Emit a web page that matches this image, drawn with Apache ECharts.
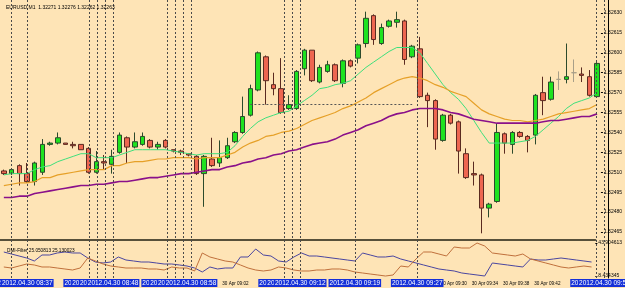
<!DOCTYPE html>
<html><head><meta charset="utf-8">
<script src="https://cdn.jsdelivr.net/npm/echarts@6/dist/echarts.min.js"></script>
<style>html,body{margin:0;padding:0;background:#fee4b6}#c{width:625px;height:288px}</style>
</head><body><div id="c"></div>
<script>
const times = ['08:34','08:35','08:36','08:37','08:38','08:39','08:40','08:41','08:42','08:43','08:44','08:45','08:46','08:47','08:48','08:49','08:50','08:51','08:52','08:53','08:54','08:55','08:56','08:57','08:58','08:59',
'09:00','09:01','09:02','09:03','09:04','09:05','09:06','09:07','09:08','09:09','09:10','09:11','09:12','09:13','09:14','09:15','09:16','09:17','09:18','09:19','09:20','09:21','09:22','09:23','09:24','09:25','09:26','09:27','09:28','09:29',
'09:30','09:31','09:32','09:33','09:34','09:35','09:36','09:37','09:38','09:39','09:40','09:41','09:42','09:43','09:44','09:45','09:46','09:47','09:48','09:49','09:50','09:51'];

const opens = [1.32511,1.32509,1.32515,1.32509,1.32503,1.32510,1.32531,1.32532,1.32532,1.32531,
1.32531,1.32528,1.32510,1.32518,1.32516,1.32525,1.32536,1.32529,1.32531,1.32534,
1.32529,1.32534,1.32527,1.32526,1.32524,1.32522,1.32509,1.32520,1.32517,1.32521,
1.32533,1.32540,1.32553,1.32572,1.32597,1.32576,1.32573,1.32558,1.32558,1.32588,
1.32602,1.32578,1.32586,1.32591,1.32577,1.32594,1.32596,1.32607,1.32628,1.32607,
1.32620,1.32623,1.32624,1.32597,1.32603,1.32568,1.32564,1.32534,1.32553,1.32548,
1.32524,1.32509,1.32508,1.32483,1.32488,1.32539,1.32531,1.32540,1.32537,1.32538,
1.32570,1.32565,1.32580,1.32580,1.32585,1.32584,1.32582,1.32567];
const closes = [1.32509,1.32512,1.32509,1.32503,1.32517,1.32531,1.32532,1.32536,1.32531,1.32530,
1.32527,1.32510,1.32518,1.32517,1.32522,1.32538,1.32529,1.32533,1.32537,1.32529,
1.32531,1.32529,1.32526,1.32525,1.32523,1.32509,1.32522,1.32515,1.32521,1.32530,
1.32540,1.32552,1.32573,1.32600,1.32579,1.32573,1.32555,1.32561,1.32586,1.32602,
1.32579,1.32589,1.32591,1.32579,1.32594,1.32590,1.32606,1.32626,1.32610,1.32619,
1.32624,1.32625,1.32595,1.32605,1.32567,1.32564,1.32535,1.32553,1.32547,1.32526,
1.32506,1.32508,1.32483,1.32486,1.32540,1.32532,1.32540,1.32537,1.32534,1.32568,
1.32564,1.32578,1.32580,1.32582,1.32585,1.32583,1.32568,1.32592];
const lows = [1.32508,1.32508,1.32500,1.32502,1.32500,1.32508,1.32530,1.32531,1.32531,1.32528,
1.32527,1.32509,1.32509,1.32512,1.32509,1.32524,1.32517,1.32528,1.32530,1.32528,
1.32527,1.32528,1.32525,1.32523,1.32522,1.32508,1.32484,1.32514,1.32514,1.32520,
1.32532,1.32539,1.32552,1.32571,1.32561,1.32568,1.32554,1.32557,1.32557,1.32583,
1.32578,1.32577,1.32585,1.32578,1.32574,1.32589,1.32592,1.32604,1.32606,1.32606,
1.32619,1.32619,1.32591,1.32596,1.32566,1.32544,1.32527,1.32533,1.32546,1.32509,
1.32505,1.32500,1.32464,1.32476,1.32487,1.32524,1.32524,1.32536,1.32525,1.32531,
1.32553,1.32564,1.32572,1.32577,1.32578,1.32578,1.32567,1.32566];
const highs = [1.32512,1.32513,1.32516,1.32517,1.32518,1.32535,1.32533,1.32540,1.32532,1.32533,
1.32531,1.32529,1.32526,1.32523,1.32527,1.32540,1.32537,1.32540,1.32540,1.32535,
1.32533,1.32535,1.32527,1.32527,1.32524,1.32523,1.32523,1.32536,1.32534,1.32536,
1.32541,1.32567,1.32576,1.32601,1.32598,1.32585,1.32596,1.32568,1.32587,1.32603,
1.32602,1.32591,1.32594,1.32592,1.32595,1.32595,1.32607,1.32631,1.32629,1.32622,
1.32625,1.32631,1.32625,1.32606,1.32612,1.32570,1.32565,1.32554,1.32554,1.32549,
1.32528,1.32518,1.32509,1.32487,1.32547,1.32540,1.32541,1.32541,1.32538,1.32569,
1.32582,1.32582,1.32586,1.32607,1.32595,1.32589,1.32587,1.32593];

const maFast = [1.32508,1.32509,1.32509,1.32509,1.32512,1.32514,1.32515,1.32518,1.32520,1.32522,
1.32524,1.32524,1.32521,1.32521,1.32521,1.32523,1.32525,1.32527,1.32527,1.32527,
1.32527,1.32527,1.32526,1.32525,1.32524,1.32523,1.32524,1.32524,1.32524,1.32525,
1.32530,1.32537,1.32543,1.32548,1.32551,1.32553,1.32555,1.32556,1.32560,1.32564,
1.32568,1.32573,1.32574,1.32576,1.32577,1.32579,1.32584,1.32589,1.32593,1.32597,
1.32601,1.32604,1.32604,1.32604,1.32600,1.32592,1.32584,1.32576,1.32570,1.32565,
1.32558,1.32549,1.32540,1.32532,1.32532,1.32532,1.32532,1.32533,1.32534,1.32537,
1.32542,1.32547,1.32552,1.32558,1.32562,1.32564,1.32566,1.32570];
const maMid = [1.32500,1.32501,1.32502,1.32502,1.32503,1.32506,1.32506,1.32508,1.32509,1.32510,
1.32511,1.32512,1.32512,1.32512,1.32515,1.32515,1.32517,1.32518,1.32518,1.32519,
1.32520,1.32520,1.32521,1.32521,1.32521,1.32520,1.32521,1.32521,1.32521,1.32523,
1.32525,1.32529,1.32532,1.32534,1.32537,1.32538,1.32540,1.32541,1.32543,1.32546,
1.32549,1.32551,1.32553,1.32555,1.32558,1.32560,1.32563,1.32566,1.32570,1.32573,
1.32576,1.32579,1.32581,1.32582,1.32581,1.32579,1.32576,1.32574,1.32571,1.32569,
1.32567,1.32562,1.32557,1.32554,1.32552,1.32550,1.32549,1.32549,1.32548,1.32549,
1.32550,1.32552,1.32554,1.32555,1.32556,1.32557,1.32558,1.32561];
const maSlow = [1.32491,1.32491,1.32492,1.32492,1.32494,1.32495,1.32496,1.32497,1.32498,1.32499,
1.32500,1.32500,1.32501,1.32501,1.32502,1.32503,1.32503,1.32504,1.32505,1.32506,
1.32506,1.32507,1.32508,1.32509,1.32509,1.32510,1.32511,1.32512,1.32512,1.32514,
1.32515,1.32517,1.32518,1.32520,1.32521,1.32523,1.32524,1.32526,1.32527,1.32529,
1.32531,1.32532,1.32533,1.32535,1.32538,1.32540,1.32542,1.32545,1.32547,1.32549,
1.32552,1.32554,1.32555,1.32557,1.32558,1.32558,1.32558,1.32557,1.32555,1.32554,
1.32552,1.32550,1.32549,1.32548,1.32547,1.32547,1.32547,1.32547,1.32547,1.32547,
1.32548,1.32549,1.32549,1.32550,1.32551,1.32552,1.32552,1.32554];

const dmiBlue = [34.23,32.08,29.93,27.78,24.56,31.01,31.01,33.16,34.23,33.16,
33.16,27.78,23.48,22.41,23.48,28.86,25.63,24.56,23.48,23.48,
22.41,21.33,21.33,20.26,19.18,17.03,12.73,18.11,15.96,17.03,
17.03,28.86,28.86,37.46,31.01,29.93,24.56,23.48,28.86,33.16,
29.93,29.93,28.86,27.78,26.71,25.63,24.56,33.16,31.01,28.86,
28.86,29.93,26.71,24.56,22.41,20.26,18.11,15.96,14.88,13.81,
11.66,10.58,9.51,8.43,22.41,21.33,20.26,19.18,18.11,26.71,
25.63,25.63,26.71,27.78,26.71,25.63,24.56,23.48];
const dmiBrown = [18.11,17.03,19.18,21.33,20.26,18.11,18.11,17.03,15.96,14.88,
17.03,27.78,24.56,21.33,19.18,18.11,17.03,17.03,17.03,15.96,
15.96,14.88,18.11,17.03,17.03,13.81,33.16,28.86,26.71,24.56,
23.48,20.26,17.03,14.88,13.81,14.88,18.11,17.03,14.88,13.81,
13.81,14.88,14.88,15.96,15.96,14.88,12.73,11.66,10.58,9.51,
8.43,9.51,19.18,18.11,26.71,34.23,34.23,32.08,29.93,39.61,
38.53,38.53,43.90,40.68,33.16,32.08,31.01,29.93,32.08,26.71,
24.56,22.41,20.26,18.11,17.03,18.11,19.18,18.11];

const yMin = 1.32465, yMax = 1.32630, yStep = 0.00015;
const indMin = 8.434345, indMax = 43.904613;
const levelPrice = 1.32620;
const dottedFrom = '09:06', dottedTo = '09:27', dottedPrice = 1.32561;
const markTimes = ['08:35','08:37','08:45','08:46','08:47','08:48','08:55','08:56','08:57','08:58','09:10','09:11','09:12','09:19','09:27','09:50','09:51'];
const markDate = '2012.04.30';
const axisTimes = ['09:02','09:30','09:34','09:38','09:42'];
const axisDay = '30 Apr';
const headerText = 'EURUSD,M1  1.32271 1.32276 1.32262 1.32263';
const dmiText = 'DMI-Filter 25.050813 25.130023';

const N = times.length;
const band = 7.86;
const gl = -0.9 - band / 2;
const gr = 625 - (gl + band * N);
const FONT = 'Liberation Sans';

const candleData = times.map((t, i) => {
  const d = { value: [opens[i], closes[i], lows[i], highs[i]] };
  if (opens[i] === closes[i]) d.itemStyle = { color: '#a89f88', borderColor: '#a89f88' };
  return d;
});

const chart = echarts.init(document.getElementById('c'), null, { renderer: 'canvas' });
chart.setOption({
  animation: false,
  backgroundColor: '#fee4b6',
  title: [
    { text: headerText, left: 1, top: 0, textStyle: { fontSize: 5, fontWeight: 'normal', color: '#000', fontFamily: FONT } },
    { text: dmiText, left: 2, top: 243, textStyle: { fontSize: 4.7, fontWeight: 'normal', color: '#000', fontFamily: FONT } }
  ],
  grid: [
    { left: gl, right: gr, top: 13, bottom: 288 - 232 },
    { left: gl, right: gr, top: 243, bottom: 288 - 276 },
    { left: gl, right: gr, top: 0, bottom: 10 }
  ],
  xAxis: [
    { gridIndex: 0, type: 'category', data: times, show: false, boundaryGap: true },
    { gridIndex: 1, type: 'category', data: times, boundaryGap: true, position: 'top', offset: 3,
      axisLine: { show: true, lineStyle: { color: '#57503a', width: 2 } }, axisTick: { show: false }, axisLabel: { show: false } },
    { gridIndex: 2, type: 'category', data: times, boundaryGap: true, position: 'bottom',
      axisLine: { show: false }, axisTick: { show: false },
      axisLabel: { interval: (i, v) => axisTimes.includes(v), formatter: v => axisDay + ' ' + v,
        align: 'left', fontSize: 4.6, color: '#000', margin: 3, fontFamily: FONT } }
  ],
  yAxis: [
    { gridIndex: 0, type: 'value', position: 'right', min: yMin, max: yMax, interval: yStep,
      axisLine: { show: false }, splitLine: { show: false },
      axisTick: { show: true, length: 2, lineStyle: { color: '#000' } },
      axisLabel: { fontSize: 5, color: '#000', margin: 3, fontFamily: FONT, formatter: v => v.toFixed(5) } },
    { gridIndex: 1, type: 'value', position: 'right', min: indMin, max: indMax,
      axisLine: { show: false }, splitLine: { show: false },
      axisTick: { show: true, length: 2, customValues: [indMin, indMax], lineStyle: { color: '#000' } },
      axisLabel: { fontSize: 5, color: '#000', margin: 3, fontFamily: FONT, customValues: [indMin, indMax], formatter: v => v.toFixed(6) } },
    { gridIndex: 2, type: 'value', position: 'right', min: 0, max: 1,
      axisLine: { show: true, lineStyle: { color: '#000', width: 1 } }, axisTick: { show: false },
      axisLabel: { show: false }, splitLine: { show: false } }
  ],
  series: [
    { type: 'line', xAxisIndex: 2, yAxisIndex: 2, data: [], z: 1, silent: true,
      markLine: { symbol: 'none', silent: true, animation: false,
        lineStyle: { type: [2, 2], color: '#4a4a4a', width: 1 },
        label: { show: true, position: 'start', distance: 1, formatter: p => markDate + ' ' + p.name,
          color: '#fff', backgroundColor: '#1530d8', fontSize: 6.5, padding: [1, 1, 0, 1], fontFamily: FONT },
        data: markTimes.map(t => ({ xAxis: t, name: t })) } },
    { type: 'candlestick', xAxisIndex: 0, yAxisIndex: 0, data: candleData, barWidth: 5, clip: false, z: 3,
      itemStyle: { color: '#1fe21f', color0: '#ee6650', borderColor: '#2c4a2c', borderColor0: '#5a2a20', borderWidth: 1 },
      markLine: { symbol: 'none', silent: true, animation: false, label: { show: false },
        data: [
          { yAxis: levelPrice, lineStyle: { color: '#3cbfa8', width: 1, type: 'solid' } },
          [ { coord: [dottedFrom, dottedPrice], lineStyle: { color: '#555', width: 1, type: [2, 2] } },
            { coord: [dottedTo, dottedPrice] } ]
        ] } },
    { type: 'line', xAxisIndex: 0, yAxisIndex: 0, data: maFast, showSymbol: false, clip: false, z: 4,
      lineStyle: { color: '#3ee07c', width: 1 } },
    { type: 'line', xAxisIndex: 0, yAxisIndex: 0, data: maMid, showSymbol: false, clip: false, z: 4,
      lineStyle: { color: '#e6a028', width: 1.2 } },
    { type: 'line', xAxisIndex: 0, yAxisIndex: 0, data: maSlow, showSymbol: false, clip: false, z: 4,
      lineStyle: { color: '#8a108a', width: 1.6 } },
    { type: 'line', xAxisIndex: 1, yAxisIndex: 1, data: dmiBlue, showSymbol: false, clip: false, z: 4,
      lineStyle: { color: '#4a46a0', width: 1 } },
    { type: 'line', xAxisIndex: 1, yAxisIndex: 1, data: dmiBrown, showSymbol: false, clip: false, z: 4,
      lineStyle: { color: '#c0703c', width: 1 } }
  ]
});
</script>
</body></html>
